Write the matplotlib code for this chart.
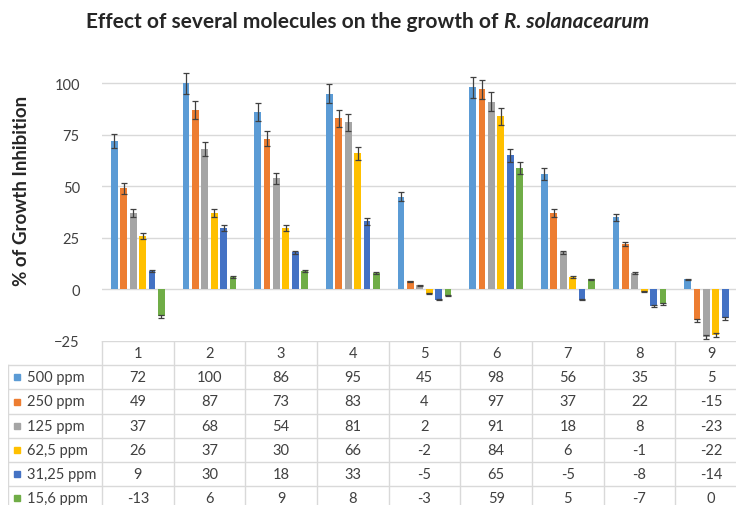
import matplotlib
matplotlib.use("Agg")
import matplotlib.pyplot as plt
import numpy as np

plt.rcParams['font.family'] = ['Lato', 'DejaVu Sans']

# data
molecules = ["1", "2", "3", "4", "5", "6", "7", "8", "9"]
series = ["500 ppm", "250 ppm", "125 ppm", "62,5 ppm", "31,25 ppm", "15,6 ppm"]
ppm500 = [72, 100, 86, 95, 45, 98, 56, 35, 5]
ppm250 = [49, 87, 73, 83, 4, 97, 37, 22, -15]
ppm125 = [37, 68, 54, 81, 2, 91, 18, 8, -23]
ppm62_5 = [26, 37, 30, 66, -2, 84, 6, -1, -22]
ppm31_25 = [9, 30, 18, 33, -5, 65, -5, -8, -14]
ppm15_6 = [-13, 6, 9, 8, -3, 59, 5, -7, 0]
values = [ppm500, ppm250, ppm125, ppm62_5, ppm31_25, ppm15_6]
err_pct = 0.05  # excel percentage error bars

colors = ['#5B9BD5', '#ED7D31', '#A5A5A5', '#FFC000', '#4472C4', '#70AD47']
grid_col = '#d9d9d9'

W, H = 736, 506
fig = plt.figure(figsize=(W / 100, H / 100), dpi=100)

# plot area
ax_left, ax_right = 102, 747
ax_bot_px, ax_top_px = 342, 63.7
ax = fig.add_axes([ax_left / W, 1 - ax_bot_px / H,
                   (ax_right - ax_left) / W, (ax_bot_px - ax_top_px) / H])

x = np.arange(len(molecules))
pitch = 0.131
width = 0.094
for j, (name, vals) in enumerate(zip(series, values)):
    vals = np.array(vals, dtype=float)
    pos = x + 0.5 + (j - 2.5) * pitch
    ax.bar(pos, vals, width, color=colors[j], zorder=2, label=name)
    nz = vals != 0
    ax.errorbar(pos[nz], vals[nz], yerr=np.abs(vals[nz]) * err_pct, fmt='none',
                ecolor='#404040', elinewidth=0.9, capsize=2.2, capthick=0.9,
                zorder=3, clip_on=False)

ax.set_xlim(0, len(molecules))
ax.set_ylim(-25, 110)
ax.set_yticks([-25, 0, 25, 50, 75, 100])
for v in [0, 25, 50, 75, 100]:
    ax.axhline(v, color=grid_col, lw=1, zorder=1)
ax.set_xticks([])
for s in ax.spines.values():
    s.set_visible(False)
ax.tick_params(axis='y', length=0, pad=16, labelsize=10.5, labelcolor='#404040')

fig.text(22 / W, 1 - 191 / H, "% of Growth Inhibition", rotation=90,
         ha='center', va='center', fontsize=13.5, fontweight='bold', color='#262626')

# title in two parts (italic species name)
ty = 1 - 22 / H
t1 = fig.text(0, ty, "Effect of several molecules on the growth of ",
              fontsize=15, fontweight='bold', va='center', color='#262626')
t2 = fig.text(0, ty, "R. solanacearum", fontsize=15, fontweight='bold',
              style='italic', va='center', color='#262626')
r = fig.canvas.get_renderer()
w1 = t1.get_window_extent(r).width
w2 = t2.get_window_extent(r).width
x0 = 367.5 - (w1 + w2) / 2
t1.set_x(x0 / W)
t2.set_x((x0 + w1) / W)

# data table
col_w = (ax_right - ax_left) / len(molecules)
lab_w = (ax_left - 8) / col_w
row_h = 24.2
nrows = len(series) + 1
tax = fig.add_axes([8 / W, 1 - (ax_bot_px + row_h * nrows) / H,
                    (ax_right - 8) / W, row_h * nrows / H])
tax.set_xlim(-lab_w, len(molecules))
tax.set_ylim(nrows, 0)
tax.axis('off')

tax.plot([0, len(molecules)], [0, 0], color=grid_col, lw=1)
for k in range(1, nrows + 1):
    tax.plot([-lab_w, len(molecules)], [k, k], color=grid_col, lw=1)
for i in range(len(molecules) + 1):
    tax.plot([i, i], [0, nrows], color=grid_col, lw=1)
tax.plot([-lab_w, -lab_w], [1, nrows], color=grid_col, lw=1)

txt_kw = dict(fontsize=10.5, color='#404040', va='center')
for i, m in enumerate(molecules):
    tax.text(i + 0.5, 0.5, m, ha='center', **txt_kw)
for j, (name, vals) in enumerate(zip(series, values)):
    yy = j + 1.5
    tax.plot([-lab_w + 0.119], [yy], marker='s', ms=5, color=colors[j], lw=0)
    tax.text(-lab_w + 0.265, yy, name, ha='left', **txt_kw)
    for i, v in enumerate(vals):
        tax.text(i + 0.5, yy, str(v), ha='center', **txt_kw)

fig.savefig("out.png", dpi=100)
